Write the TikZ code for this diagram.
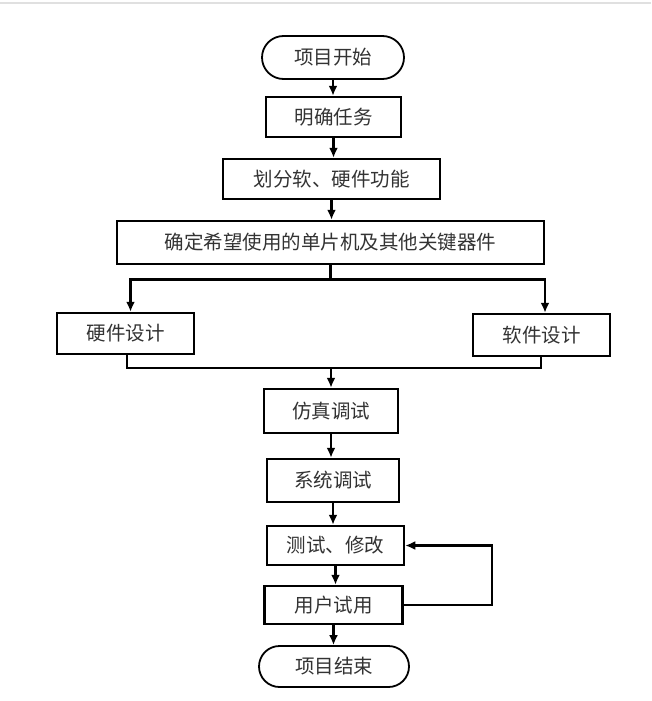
\documentclass[tikz,border=0pt]{standalone}
\usepackage{fontspec}
\newfontfamily\cjk{Noto Sans CJK SC}
\usetikzlibrary{arrows.meta,shapes.misc,positioning}
\tikzset{
  box/.style={draw=black, line width=2.5pt, rectangle, inner sep=0pt,
    font=\cjk\fontsize{19.5}{22}\selectfont, text=black!80},
  term/.style={draw=black, line width=1.8pt, rounded rectangle, inner sep=0pt,
    font=\cjk\fontsize{19.5}{22}\selectfont, text=black!80},
  conn/.style={draw=black, line width=2.5pt},
  arr/.style={conn, -{Latex[length=10pt,width=9pt]}}
}
\begin{document}
\begin{tikzpicture}[x=1pt,y=-1pt]
\useasboundingbox (0,0) rectangle (651,701);
\fill[white] (0,0) rectangle (651,701);
\draw[black!12, line width=1.5pt] (0,3) -- (651,3);

\node[term, minimum width=142pt, minimum height=43pt] (start) at (333,57.5) {项目开始};
\node[box, minimum width=135pt, minimum height=40pt] (task) at (333.5,117) {明确任务};
\node[box, minimum width=217pt, minimum height=40pt] (div) at (331.5,179) {划分软、硬件功能};
\node[box, minimum width=427pt, minimum height=43pt] (det) at (330.5,242.5) {确定希望使用的单片机及其他关键器件};
\node[box, minimum width=137pt, minimum height=41pt] (hw) at (125.5,333.5) {硬件设计};
\node[box, minimum width=137pt, minimum height=42pt] (sw) at (541.5,335) {软件设计};
\node[box, minimum width=134pt, minimum height=44pt] (sim) at (331,411) {仿真调试};
\node[box, minimum width=132pt, minimum height=43pt] (sys) at (333,480.5) {系统调试};
\node[box, minimum width=137pt, minimum height=39pt] (test) at (335.5,545.5) {测试、修改};
\node[box, minimum width=138pt, minimum height=38pt] (user) at (333.5,605) {用户试用};
\node[term, minimum width=150pt, minimum height=41pt] (fin) at (334,666.5) {项目结束};

\draw[arr] (start.south) -- (start.south |- task.north);
\draw[arr] (task.south) -- (task.south |- div.north);
\draw[arr] (div.south) -- (div.south |- det.north);

\coordinate (br) at ([yshift=-14pt]det.south);
\coordinate (hwin) at ([xshift=5pt]hw.north);
\coordinate (swin) at ([xshift=3.5pt]sw.north);
\draw[conn] (det.south) -- (br);
\draw[arr] (br) -| (hwin);
\draw[arr] (br) -| (swin);

\coordinate (mg) at (sim.north |- 0,368);
\coordinate (hwout) at ([xshift=1.5pt]hw.south);
\coordinate (swout) at ([xshift=-0.5pt]sw.south);
\draw[conn] (hwout) |- (mg) -| (swout);
\draw[arr] (mg) -- (sim.north);

\draw[arr] (sim.south) -- (sim.south |- sys.north);
\draw[arr] (sys.south) -- (sys.south |- test.north);
\draw[arr] (test.south) -- (test.south |- user.north);
\draw[arr] (user.south) -- (user.south |- fin.north);

\coordinate (fb) at ([xshift=88pt]user.east);
\draw[arr] (user.east) -- (fb) |- (test.east);
\end{tikzpicture}
\end{document}
